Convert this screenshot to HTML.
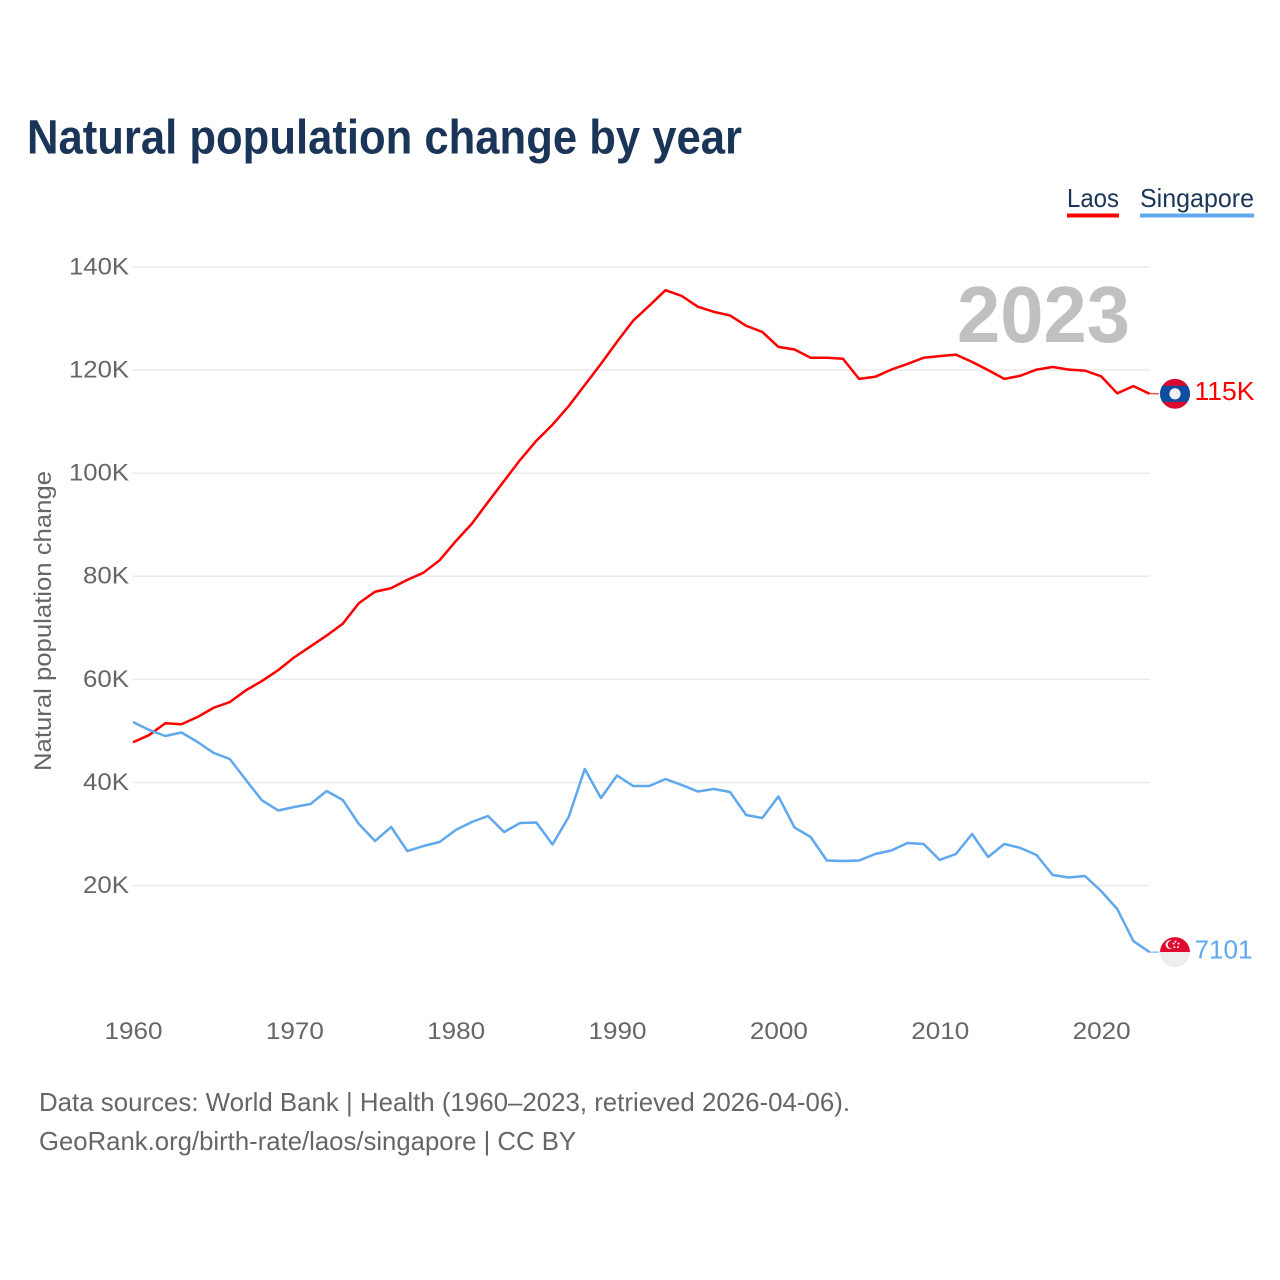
<!DOCTYPE html>
<html lang="en">
<head>
<meta charset="utf-8">
<title>Natural population change by year</title>
<style>
html,body{margin:0;padding:0;background:#fff;width:1280px;height:1280px;overflow:hidden}
svg{display:block}
text{font-family:"Liberation Sans",sans-serif}
</style>
</head>
<body>
<svg id="chart" xmlns="http://www.w3.org/2000/svg" width="1280" height="1280" viewBox="0 0 1280 1280">
  <text x="27" y="153.5" font-size="48" font-weight="700" fill="#1a3557" textLength="715" lengthAdjust="spacingAndGlyphs">Natural population change by year</text>

  <g>
    <g>
      <text x="1067" y="207" font-size="26" fill="#1a3557" textLength="52" lengthAdjust="spacingAndGlyphs">Laos</text>
      <rect x="1067" y="213.5" width="52" height="4" fill="#ff0000"/>
    </g>
    <g>
      <text x="1140" y="207" font-size="26" fill="#1a3557" textLength="114" lengthAdjust="spacingAndGlyphs">Singapore</text>
      <rect x="1140" y="213.5" width="114" height="4" fill="#5fa8ee"/>
    </g>
  </g>

  <g id="grid"></g>
  <g id="yticks"></g>
  <g id="xticks"></g>

  <text transform="translate(51,621) rotate(-90)" text-anchor="middle" font-size="24" fill="#666666" textLength="300" lengthAdjust="spacingAndGlyphs">Natural population change</text>

  <text x="957" y="342" font-size="80" font-weight="700" fill="#c0c0c0" textLength="173" lengthAdjust="spacingAndGlyphs">2023</text>

  <path id="line-laos" fill="none" stroke="#ff0000" stroke-width="2.5" stroke-linejoin="round"/>
  <path id="line-singapore" fill="none" stroke="#5fa8ee" stroke-width="2.5" stroke-linejoin="round"/>
  <line id="connector-laos" stroke="#ff0000" stroke-width="1"/>
  <line id="connector-singapore" stroke="#5fa8ee" stroke-width="1"/>

  <defs>
    <clipPath id="flag-clip"><circle cx="0" cy="0" r="15"/></clipPath>
  </defs>

  <g id="flag-laos">
    <g clip-path="url(#flag-clip)">
      <rect x="-15" y="-15" width="30" height="30" fill="#d9082f"/>
      <rect x="-15" y="-8" width="30" height="16" fill="#0b4ea2"/>
      <circle cx="0" cy="0" r="5.6" fill="#f0f0f0"/>
    </g>
  </g>
  <text id="end-label-laos" font-size="26" fill="#ff0000" textLength="60" lengthAdjust="spacingAndGlyphs"></text>

  <g id="flag-singapore">
    <g clip-path="url(#flag-clip)">
      <rect x="-15" y="-15" width="30" height="15" fill="#df0a32"/>
      <rect x="-15" y="0" width="30" height="15" fill="#eeeeee"/>
      <circle cx="-5" cy="-7.5" r="4.4" fill="#f4f4f4"/>
      <circle cx="-3.4" cy="-7.5" r="3.9" fill="#df0a32"/>
      <circle cx="0.5" cy="-10.5" r="1" fill="#f4f4f4"/>
      <circle cx="3.6" cy="-8.5" r="1" fill="#f4f4f4"/>
      <circle cx="3" cy="-5" r="1" fill="#f4f4f4"/>
      <circle cx="-0.6" cy="-5" r="1" fill="#f4f4f4"/>
      <circle cx="-1.4" cy="-8.5" r="1" fill="#f4f4f4"/>
    </g>
  </g>
  <text id="end-label-singapore" font-size="26" fill="#5fa8ee" textLength="58" lengthAdjust="spacingAndGlyphs"></text>

  <text x="39" y="1111" font-size="26" fill="#666666" textLength="811" lengthAdjust="spacingAndGlyphs">Data sources: World Bank | Health (1960–2023, retrieved 2026-04-06).</text>
  <a>
    <text x="39" y="1150" font-size="26" fill="#666666" textLength="537" lengthAdjust="spacingAndGlyphs">GeoRank.org/birth-rate/laos/singapore | CC BY</text>
  </a>
</svg>

<script>
const firstYear = 1960;
const laosValues = [47800,49200,51500,51300,52700,54500,55600,57900,59700,61800,64300,66400,68500,70800,74800,77000,77700,79300,80700,83100,86800,90200,94400,98500,102600,106300,109400,113000,117100,121200,125500,129600,132500,135500,134400,132300,131300,130600,128600,127400,124500,124000,122400,122400,122200,118300,118700,120100,121200,122400,122700,123000,121600,120000,118300,118900,120100,120600,120100,119900,118800,115500,116900,115400];
const singaporeValues = [51740,50190,49020,49700,47860,45730,44560,40490,36510,34570,35250,35830,38350,36610,31950,28650,31370,26710,27680,28460,30790,32340,33500,30400,32150,32240,27980,33310,42620,37000,41360,39320,39320,40680,39520,38260,38740,38160,33700,33120,37290,31270,29430,24870,24770,24870,26130,26810,28270,28070,24970,26130,30010,25550,28070,27300,25940,22060,21570,21860,18950,15460,9250,7101];
const yTickValues = [20000,40000,60000,80000,100000,120000,140000];
const yTickLabels = ["20K","40K","60K","80K","100K","120K","140K"];
const xTickValues = [1960,1970,1980,1990,2000,2010,2020];
const xTickLabels = ["1960","1970","1980","1990","2000","2010","2020"];

const SVGNS = "http://www.w3.org/2000/svg";
function xScale(year){ return 133 + (year - 1960) * 16.135; }
function yScale(v){ return 988.7 - v * 103.1 / 20000; }
function linePath(vals){
  return vals.map(function(v,i){
    return (i ? "L" : "M") + xScale(firstYear + i).toFixed(2) + " " + yScale(v).toFixed(2);
  }).join("");
}
function formatEnd(v){ return v >= 10000 ? Math.round(v / 1000) + "K" : String(v); }

const grid = document.getElementById("grid");
const yticks = document.getElementById("yticks");
const xticks = document.getElementById("xticks");

yTickValues.forEach(function(v,i){
  const g = document.createElementNS(SVGNS,"line");
  
  
  g.setAttribute("x1",132);
  g.setAttribute("x2",1150);
  g.setAttribute("y1",yScale(v));
  g.setAttribute("y2",yScale(v));
  g.setAttribute("stroke","#ebebeb");
  g.setAttribute("stroke-width","1.5");
  grid.appendChild(g);

  const t = document.createElementNS(SVGNS,"text");
  
  
  t.setAttribute("x",129);
  t.setAttribute("y",yScale(v) + 7.4);
  t.setAttribute("text-anchor","end");
  t.setAttribute("font-size","24");
  t.setAttribute("fill","#666666");
  t.setAttribute("textLength", yTickLabels[i].length === 4 ? 60 : 46);
  t.setAttribute("lengthAdjust","spacingAndGlyphs");
  t.textContent = yTickLabels[i];
  yticks.appendChild(t);
});

xTickValues.forEach(function(y,i){
  const t = document.createElementNS(SVGNS,"text");
  
  
  t.setAttribute("x",xScale(y) + 0.5);
  t.setAttribute("y",1039);
  t.setAttribute("text-anchor","middle");
  t.setAttribute("font-size","24");
  t.setAttribute("fill","#666666");
  t.setAttribute("textLength",58);
  t.setAttribute("lengthAdjust","spacingAndGlyphs");
  t.textContent = xTickLabels[i];
  xticks.appendChild(t);
});

function drawSeries(key, vals){
  document.getElementById("line-" + key).setAttribute("d", linePath(vals));
  const last = vals[vals.length - 1];
  const lx = xScale(firstYear + vals.length - 1);
  const ly = yScale(last);
  const c = document.getElementById("connector-" + key);
  c.setAttribute("x1", lx);
  c.setAttribute("x2", lx + 9.5);
  c.setAttribute("y1", ly);
  c.setAttribute("y2", ly);
  document.getElementById("flag-" + key).setAttribute("transform", "translate(" + (lx + 25.5) + "," + ly + ")");
  const lab = document.getElementById("end-label-" + key);
  lab.setAttribute("x", lx + 45);
  lab.setAttribute("y", ly + 6.2);
  lab.textContent = formatEnd(last);
}
drawSeries("laos", laosValues);
drawSeries("singapore", singaporeValues);
</script>
</body>
</html>
